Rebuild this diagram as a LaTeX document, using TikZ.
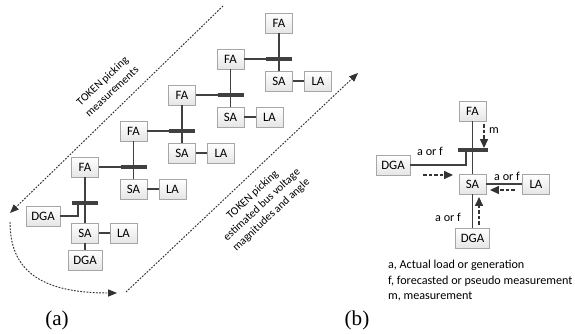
\documentclass[tikz,border=0pt]{standalone}
\usepackage{fontspec}
\setmainfont{Carlito}
\newfontfamily\tagfont{Liberation Serif}
\usetikzlibrary{arrows.meta,shadows}

\begin{document}
\begin{tikzpicture}[
    box/.style={draw=black!35, top color=white, bottom color=black!10, drop shadow={shadow xshift=0.5pt, shadow yshift=-0.5pt, opacity=0.25}, minimum width=0.54cm, minimum height=0.4cm, inner xsep=3pt, inner ysep=1pt, font=\fontsize{7.3}{8}\selectfont},
    wire/.style={draw=black!75, line width=0.7pt},
    bar/.style={draw=black!75, line width=1.8pt},
    tok/.style={black!80, line width=0.55pt, dash pattern=on 1pt off 0.8pt, -{Triangle[length=5pt,width=4pt]}},
    flow/.style={black!80, line width=0.7pt, dash pattern=on 2pt off 1.2pt, -{Triangle[length=5pt,width=4.5pt]}},
    lbl/.style={font=\fontsize{6.9}{8}\selectfont, inner sep=1pt}
]
\useasboundingbox (0,0) rectangle (11.5,-6.68);

% (a) feeder ladder
\node[box] (fa0) at (5.58,-0.46) {FA};
\node[box] (sa0) at (5.58,-1.62) {SA};
\node[box] (la0) at (6.36,-1.62) {LA};
\node[box] (fa1) at (4.61,-1.18) {FA};
\node[box] (sa1) at (4.61,-2.34) {SA};
\node[box] (la1) at (5.39,-2.34) {LA};
\node[box] (fa2) at (3.64,-1.90) {FA};
\node[box] (sa2) at (3.64,-3.06) {SA};
\node[box] (la2) at (4.42,-3.06) {LA};
\node[box] (fa3) at (2.67,-2.62) {FA};
\node[box] (sa3) at (2.67,-3.78) {SA};
\node[box] (la3) at (3.45,-3.78) {LA};
\node[box] (fa4) at (1.70,-3.34) {FA};
\node[box] (sa4) at (1.70,-4.66) {SA};
\node[box] (la4) at (2.47,-4.66) {LA};
\node[box] (dg4) at (1.70,-5.20) {DGA};
\node[box] (dgl) at (0.86,-4.32) {DGA};

\coordinate (b0) at (5.58,-1.18);
\coordinate (b1) at (4.61,-1.90);
\coordinate (b2) at (3.64,-2.62);
\coordinate (b3) at (2.67,-3.34);
\coordinate (b4) at (1.70,-4.06);
\coordinate (j4) at (1.56,-4.06);

\draw[wire] (fa0) -- (sa0);
\draw[wire] (fa1) -- (sa1);
\draw[wire] (fa2) -- (sa2);
\draw[wire] (fa3) -- (sa3);
\draw[wire] (fa4) -- (sa4);
\draw[wire] (sa0) -- (la0);
\draw[wire] (sa1) -- (la1);
\draw[wire] (sa2) -- (la2);
\draw[wire] (sa3) -- (la3);
\draw[wire] (sa4) -- (la4);
\draw[wire] (sa4) -- (dg4);
\draw[wire] (fa1) -- ([xshift=-0.26cm]b0);
\draw[wire] (fa2) -- ([xshift=-0.26cm]b1);
\draw[wire] (fa3) -- ([xshift=-0.26cm]b2);
\draw[wire] (fa4) -- ([xshift=-0.26cm]b3);
\draw[wire] (dgl) -| (j4);
\draw[bar] ([xshift=-0.26cm]b0) -- ([xshift=0.26cm]b0);
\draw[bar] ([xshift=-0.26cm]b1) -- ([xshift=0.26cm]b1);
\draw[bar] ([xshift=-0.26cm]b2) -- ([xshift=0.26cm]b2);
\draw[bar] ([xshift=-0.26cm]b3) -- ([xshift=0.26cm]b3);
\draw[bar] ([xshift=-0.26cm]b4) -- ([xshift=0.26cm]b4);

% token paths
\coordinate (t0) at (4.46,-0.12);
\coordinate (t1) at (0.20,-4.26);
\coordinate (t2) at (0.20,-4.44);
\coordinate (t3) at (2.34,-5.86);
\coordinate (t4) at (2.52,-5.84);
\coordinate (t5) at (7.16,-1.46);
\draw[tok] (t0) -- (t1);
\draw[tok] (t2) .. controls (0.20,-5.40) and (0.80,-5.86) .. (t3);
\draw[tok] (t4) -- (t5);
\node[rotate=43, align=center, font=\fontsize{6.4}{8}\selectfont] (tkm) at (2.14,-1.72) {TOKEN picking\\measurements};
\node[rotate=43, align=center, font=\fontsize{6.4}{7.8}\selectfont] (tke) at (5.24,-4.10) {TOKEN picking\\estimated bus voltage\\magnitudes and angle};

% (b) single node
\node[box] (fb) at (9.45,-2.22) {FA};
\node[box] (sb) at (9.45,-3.68) {SA};
\node[box] (lb) at (10.72,-3.68) {LA};
\node[box] (db) at (9.45,-4.76) {DGA};
\node[box] (gb) at (7.86,-3.30) {DGA};
\coordinate (bb) at (9.45,-3.00);
\coordinate (jb) at (9.32,-3.00);

\draw[wire] (fb) -- (sb);
\draw[wire] (sb) -- (lb);
\draw[wire] (db) -- (sb);
\draw[wire] (gb) -| (jb);
\draw[bar] ([xshift=-0.3cm]bb) -- ([xshift=0.3cm]bb);

\coordinate (m0) at (9.68,-2.48);
\coordinate (m1) at (9.68,-2.96);
\coordinate (g0) at (8.46,-3.50);
\coordinate (g1) at (9.06,-3.50);
\coordinate (l0) at (10.30,-3.80);
\coordinate (l1) at (9.80,-3.80);
\coordinate (d0) at (9.58,-4.50);
\coordinate (d1) at (9.58,-3.94);
\draw[flow] (m0) -- (m1);
\draw[flow] (g0) -- (g1);
\draw[flow] (l0) -- (l1);
\draw[flow] (d0) -- (d1);

\node[lbl] (lm) at (9.88,-2.62) {m};
\node[lbl] (lg) at (8.60,-3.02) {a or f};
\node[lbl] (ll) at (10.14,-3.52) {a or f};
\node[lbl] (ld) at (8.96,-4.34) {a or f};

\node[lbl, anchor=west, align=left, font=\fontsize{6.9}{8.8}\selectfont] (key) at (7.72,-5.62) {a, Actual load or generation\\f, forecasted or pseudo measurement\\m, measurement};

\node[font=\tagfont\fontsize{12}{12}\selectfont] (capa) at (1.14,-6.40) {(a)};
\node[font=\tagfont\fontsize{12}{12}\selectfont] (capb) at (7.14,-6.40) {(b)};
\end{tikzpicture}
\end{document}
